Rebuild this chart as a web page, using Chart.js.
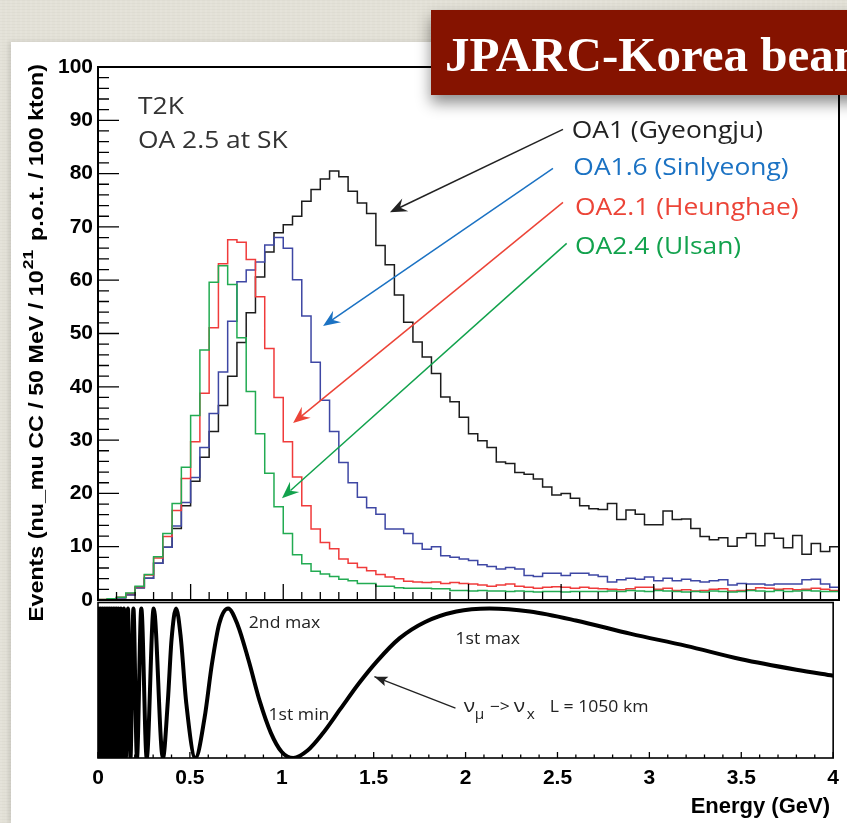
<!DOCTYPE html>
<html>
<head>
<meta charset="utf-8">
<script src="https://cdn.jsdelivr.net/npm/chart.js@4.4.1/dist/chart.umd.min.js"></script>
<style>
html, body { margin: 0; padding: 0; }
body {
  width: 847px; height: 823px; overflow: hidden; position: relative;
  background:
    repeating-linear-gradient(0deg, rgba(0,0,0,0.025) 0 1px, transparent 1px 3px),
    repeating-linear-gradient(90deg, rgba(255,255,255,0.08) 0 2px, transparent 2px 5px),
    #e3e1d7;
}
#paper { position: absolute; left: 11px; top: 42px; width: 836px; height: 781px; background: #fff;
  box-shadow: -2px 0 5px rgba(0,0,0,0.12); }
#upper { position: absolute; left: 0; top: 0; }
#lower { position: absolute; left: 0; top: 590px; }
#title { position: absolute; left: 431px; top: 10px; width: 440px; height: 85px; background: #851300;
  box-shadow: 0 8px 14px rgba(0,0,0,0.45); z-index: 5; }
#title span { position: absolute; left: 14px; top: 20px; font: bold 49px/49px "Liberation Serif", serif;
  color: #fff; white-space: nowrap; }
</style>
</head>
<body>
<div id="paper"></div>
<canvas id="upper" width="847" height="620"></canvas>
<canvas id="lower" width="847" height="233"></canvas>
<div id="title"><span>JPARC-Korea beam</span></div>
<script>
// 50 MeV bins from 0 to 4 GeV
const binWidth = 0.05;
const energyTicks = [0, 0.5, 1, 1.5, 2, 2.5, 3, 3.5, 4];
const eventTicks = [0, 10, 20, 30, 40, 50, 60, 70, 80, 90, 100];

// events per bin
const oa1 = [0, 0.1, 0.4, 1.0, 2.3, 4.1, 6.9, 9.9, 13.4, 17.7,
  22.3, 26.8, 31.6, 36.5, 42.0, 48.3, 53.9, 60.6, 65.3, 68.9,
  70.4, 72.0, 74.8, 77.0, 79.0, 80.5, 79.4, 76.7, 74.5, 72.5,
  66.5, 62.9, 57.2, 52.1, 48.4, 45.6, 42.5, 38.1, 37.2, 34.3,
  31.2, 29.9, 28.6, 25.9, 25.6, 23.9, 23.6, 22.7, 21.2, 19.7,
  20.0, 19.1, 17.7, 17.1, 17.0, 18.1, 15.1, 16.9, 16.1, 14.1,
  14.1, 16.7, 15.1, 15.2, 13.4, 11.9, 11.3, 11.7, 10.1, 11.7,
  12.5, 10.2, 12.5, 11.6, 9.8, 12.1, 8.6, 10.6, 9.1, 10.0];
const oa16 = [0, 0.1, 0.4, 1.0, 2.3, 4.1, 6.9, 9.9, 13.9, 18.3,
  23.0, 28.6, 35.0, 42.8, 52.3, 59.7, 61.9, 63.4, 66.6, 68.0,
  66.0, 60.1, 53.3, 44.6, 37.5, 31.6, 25.8, 22.0, 19.3, 17.3,
  16.1, 13.3, 13.3, 12.5, 10.6, 9.5, 10.0, 8.3, 8.0, 7.7,
  7.4, 6.6, 6.3, 5.8, 6.1, 5.8, 4.6, 4.4, 5.0, 5.0,
  4.6, 5.0, 5.0, 4.7, 4.4, 3.4, 3.8, 4.1, 3.9, 4.3,
  3.6, 4.1, 3.6, 3.9, 3.6, 3.4, 3.6, 3.8, 2.8, 3.1,
  3.0, 3.0, 2.8, 3.0, 3.0, 3.0, 3.8, 3.9, 3.0, 2.4];
const oa21 = [0.1, 0.25, 0.5, 1.2, 2.5, 4.7, 7.9, 11.9, 16.8, 22.8,
  29.7, 38.8, 51.1, 63.1, 67.6, 67.1, 63.9, 56.9, 47.2, 38.0,
  29.7, 23.1, 17.7, 13.3, 10.8, 9.6, 7.7, 6.9, 6.1, 5.5,
  4.8, 4.3, 4.0, 3.5, 3.4, 3.3, 3.4, 3.1, 3.3, 3.1,
  3.0, 2.8, 2.6, 2.8, 3.0, 2.6, 2.4, 2.2, 2.4, 2.5,
  2.4, 2.2, 2.4, 2.2, 2.1, 2.0, 1.9, 2.1, 2.4, 2.4,
  2.0, 2.2, 1.8, 1.9, 1.7, 1.8, 2.0, 2.1, 1.7, 1.8,
  1.9, 2.3, 2.2, 2.0, 2.1, 1.9, 2.0, 2.2, 2.0, 1.8];
const oa24 = [0.1, 0.25, 0.5, 1.3, 2.6, 4.8, 8.1, 12.5, 18.1, 24.9,
  34.6, 46.9, 59.6, 62.7, 59.2, 49.2, 39.1, 31.2, 23.8, 17.5,
  12.5, 8.5, 6.8, 5.4, 4.9, 4.4, 3.9, 3.6, 3.1, 3.1,
  2.6, 2.6, 2.3, 2.2, 2.2, 2.2, 2.1, 2.1, 1.8, 1.8,
  1.7, 1.8, 1.7, 1.7, 1.6, 1.7, 1.6, 1.5, 1.6, 1.6,
  1.5, 1.6, 1.6, 1.6, 1.6, 1.7, 1.6, 1.8, 1.7, 1.6,
  1.8, 1.7, 1.6, 1.5, 1.6, 1.5, 1.7, 1.6, 1.5, 1.6,
  1.8, 1.7, 1.6, 1.8, 1.6, 1.7, 1.8, 1.7, 1.6, 1.6];

// nu_mu -> nu_x probability curve
const probE = [0, 0.004, 0.009, 0.014, 0.019, 0.024, 0.029, 0.034, 0.039, 0.044,
  0.049, 0.054, 0.059, 0.064, 0.069, 0.074, 0.079, 0.0835, 0.0883, 0.0922,
  0.0964, 0.1009, 0.106, 0.1116, 0.1178, 0.1247, 0.1325, 0.1413, 0.1514, 0.1631,
  0.1767, 0.1927, 0.212, 0.2356, 0.265, 0.303, 0.353, 0.38, 0.40, 0.425,
  0.45, 0.48, 0.53, 0.58, 0.62, 0.66, 0.708, 0.76, 0.82, 0.88,
  0.94, 1.0, 1.063, 1.14, 1.22, 1.32, 1.42, 1.52, 1.64, 1.78,
  1.95, 2.13, 2.35, 2.6, 2.9, 3.2, 3.5, 3.8, 4.0];
const probP = [0, 1, 0, 1, 0, 1, 0, 1, 0, 1,
  0, 1, 0, 1, 0, 1, 0, 1, 0, 1,
  0, 1, 0, 1, 0, 1, 0, 1, 0, 1,
  0, 1, 0, 1, 0, 1, 0, 0.38, 0.79, 1,
  0.81, 0.37, 0, 0.27, 0.63, 0.9, 1, 0.89, 0.65, 0.38,
  0.17, 0.04, 0, 0.05, 0.16, 0.33, 0.5, 0.65, 0.8, 0.91,
  0.98, 1, 0.98, 0.92, 0.83, 0.75, 0.66, 0.59, 0.55];

const siteNames = ['OA1 (Gyeongju)', 'OA1.6 (Sinlyeong)', 'OA2.1 (Heunghae)', 'OA2.4 (Ulsan)'];
const siteData = [oa1, oa16, oa21, oa24];
const histColors = ['#1c1c1c', '#3e47a4', '#f03b3b', '#22ab52'];
const labelColors = ['#222222', '#1b72c3', '#ec4437', '#12a24d'];

// annotation layout, in data units (E, events)
const labelPos = [[2.557, 86.6], [2.566, 79.7], [2.575, 72.3], [2.575, 65.0]];
const arrowPos = [[2.51, 88.3, 1.576, 72.75], [2.456, 81.0, 1.215, 51.4],
  [2.51, 74.6, 1.053, 33.2], [2.53, 66.9, 0.993, 19.1]];

const sansBold = '"Liberation Sans", Arial, sans-serif';
const myriad = '"Open Sans", "Noto Sans", sans-serif';

function histPoints(vals) {
  const pts = vals.map((v, i) => ({x: i * binWidth, y: v}));
  pts.push({x: vals.length * binWidth, y: vals[vals.length - 1]});
  return pts;
}

function stretchText(ctx, txt, x, y, sx) {
  ctx.save();
  ctx.translate(x, y);
  ctx.scale(sx, 1);
  ctx.fillText(txt, 0, 0);
  ctx.restore();
}

function arrowHead(ctx, x1, y1, x2, y2, len, half, notch) {
  const a = Math.atan2(y2 - y1, x2 - x1), c = Math.cos(a), s = Math.sin(a);
  const bx = x2 - len * c, by = y2 - len * s;
  ctx.beginPath();
  ctx.moveTo(x2, y2);
  ctx.lineTo(bx + half * s, by - half * c);
  ctx.lineTo(x2 - notch * len * c, y2 - notch * len * s);
  ctx.lineTo(bx - half * s, by + half * c);
  ctx.closePath();
  ctx.fill();
}

// ROOT style frame with ticks pointing inwards
const rootFrame = {
  id: 'rootFrame',
  afterDatasetsDraw(chart, args, o) {
    const {ctx, chartArea: a, scales: {x, y}} = chart;
    ctx.save();
    ctx.strokeStyle = '#000';
    ctx.lineWidth = o.lw;
    ctx.strokeRect(a.left, a.top, a.right - a.left, a.bottom - a.top);
    ctx.lineWidth = 1.3;
    ctx.beginPath();
    for (let k = 0; k * o.xMinor <= x.max + 1e-9; k++) {
      const v = k * o.xMinor, px = x.getPixelForValue(v);
      const major = Math.abs(v / o.xMajor - Math.round(v / o.xMajor)) < 1e-6;
      ctx.moveTo(px, a.bottom);
      ctx.lineTo(px, a.bottom - (major ? o.xMajLen : o.xMinLen));
    }
    if (o.yMinor) {
      for (let k = 0; k * o.yMinor <= y.max + 1e-9; k++) {
        const v = k * o.yMinor, py = y.getPixelForValue(v);
        const major = Math.abs(v / o.yMajor - Math.round(v / o.yMajor)) < 1e-6;
        ctx.moveTo(a.left, py);
        ctx.lineTo(a.left + (major ? o.yMajLen : o.yMinLen), py);
      }
    }
    ctx.stroke();
    ctx.restore();
  }
};

// texts and arrows of the upper panel
const upperNotes = {
  id: 'upperNotes',
  afterDraw(chart) {
    const {ctx, scales: {x, y}} = chart;
    ctx.save();
    ctx.textBaseline = 'alphabetic';
    ctx.font = '24px ' + myriad;
    ctx.fillStyle = '#333';
    stretchText(ctx, 'T2K', x.getPixelForValue(0.216), y.getPixelForValue(91.25), 1.1);
    stretchText(ctx, 'OA 2.5 at SK', x.getPixelForValue(0.216), y.getPixelForValue(84.75), 1.1);
    siteNames.forEach((name, i) => {
      ctx.fillStyle = labelColors[i];
      stretchText(ctx, name, x.getPixelForValue(labelPos[i][0]), y.getPixelForValue(labelPos[i][1]), 1.1);
      const [e1, v1, e2, v2] = arrowPos[i];
      const x1 = x.getPixelForValue(e1), y1 = y.getPixelForValue(v1);
      const x2 = x.getPixelForValue(e2), y2 = y.getPixelForValue(v2);
      ctx.strokeStyle = labelColors[i];
      ctx.lineWidth = 1.5;
      ctx.beginPath();
      ctx.moveTo(x1, y1);
      ctx.lineTo(x2 + (x1 - x2) * 0.03, y2 + (y1 - y2) * 0.03);
      ctx.stroke();
      arrowHead(ctx, x1, y1, x2, y2, 17, 7, 0.65);
    });

    // rotated y axis title with superscript
    const parts = ['Events (nu_mu CC / 50 MeV / 10', '21', ' p.o.t. / 100 kton)'];
    const fMain = 'bold 20px ' + sansBold, fSup = 'bold 15px ' + sansBold;
    ctx.font = fMain;
    const w1 = ctx.measureText(parts[0]).width, w3 = ctx.measureText(parts[2]).width;
    ctx.font = fSup;
    const w2 = ctx.measureText(parts[1]).width + 3;
    const s = (622 - 64) / (w1 + w2 + w3);
    ctx.fillStyle = '#000';
    ctx.translate(43, 622);
    ctx.rotate(-Math.PI / 2);
    ctx.scale(s, 1);
    ctx.font = fMain;
    ctx.fillText(parts[0], 0, 0);
    ctx.font = fSup;
    ctx.fillText(parts[1], w1 + 1, -10);
    ctx.font = fMain;
    ctx.fillText(parts[2], w1 + w2, 0);
    ctx.restore();
  }
};

// texts and arrow of the lower panel
const lowerNotes = {
  id: 'lowerNotes',
  afterDraw(chart) {
    const {ctx, scales: {x, y}} = chart;
    ctx.save();
    ctx.textBaseline = 'alphabetic';
    ctx.fillStyle = '#222';
    ctx.font = '16px ' + myriad;
    stretchText(ctx, '2nd max', x.getPixelForValue(0.8205), y.getPixelForValue(0.868), 1.1);
    stretchText(ctx, '1st min', x.getPixelForValue(0.928), y.getPixelForValue(0.254), 1.1);
    stretchText(ctx, '1st max', x.getPixelForValue(1.945), y.getPixelForValue(0.763), 1.1);
    const bx = x.getPixelForValue(1.99), by = y.getPixelForValue(0.31);
    ctx.font = '19px ' + myriad;
    stretchText(ctx, 'ν', bx, by, 1.1);
    ctx.font = '14px ' + myriad;
    stretchText(ctx, 'μ', bx + 11, by + 7, 1.1);
    ctx.font = '16px ' + myriad;
    stretchText(ctx, '−>', bx + 26, by, 1.1);
    ctx.font = '19px ' + myriad;
    stretchText(ctx, 'ν', bx + 50, by, 1.1);
    ctx.font = '14px ' + myriad;
    stretchText(ctx, 'x', bx + 63, by + 7, 1.1);
    ctx.font = '16px ' + myriad;
    stretchText(ctx, 'L = 1050 km', bx + 86, by, 1.1);

    const x1 = x.getPixelForValue(1.945), y1 = y.getPixelForValue(0.334);
    const x2 = x.getPixelForValue(1.504), y2 = y.getPixelForValue(0.544);
    ctx.strokeStyle = '#222';
    ctx.fillStyle = '#222';
    ctx.lineWidth = 1.3;
    ctx.beginPath();
    ctx.moveTo(x1, y1);
    ctx.lineTo(x2, y2);
    ctx.stroke();
    arrowHead(ctx, x1, y1, x2, y2, 13, 5, 0.8);

    // x axis title sits low and right, as in the original
    ctx.fillStyle = '#000';
    ctx.font = 'bold 22px ' + sansBold;
    ctx.textAlign = 'right';
    ctx.fillText('Energy (GeV)', 830, 223);
    ctx.restore();
  }
};

const histSets = siteData.map((vals, i) => ({
  label: siteNames[i],
  data: histPoints(vals),
  borderColor: histColors[i],
  borderWidth: 1.5,
  stepped: true,
  pointRadius: 0,
  fill: false
})).reverse();

new Chart(document.getElementById('upper'), {
  type: 'line',
  data: {datasets: histSets},
  options: {
    responsive: false, animation: false, events: [],
    layout: {padding: {left: 0, top: 67, right: 8, bottom: 20}},
    plugins: {
      legend: {display: false}, tooltip: {enabled: false},
      rootFrame: {lw: 2, xMajor: 0.5, xMinor: 0.1, xMajLen: 16, xMinLen: 8,
        yMajor: 10, yMinor: 2, yMajLen: 21, yMinLen: 11}
    },
    scales: {
      x: {type: 'linear', min: 0, max: 4, display: false},
      y: {
        min: 0, max: 100,
        afterFit(s) { s.width = 98; },
        afterBuildTicks(s) { s.ticks = eventTicks.map(v => ({value: v})); },
        grid: {display: false, drawTicks: false},
        border: {display: false},
        ticks: {padding: 5, color: '#000', font: {family: sansBold, size: 21, weight: 'bold'}}
      }
    }
  },
  plugins: [rootFrame, upperNotes]
});

new Chart(document.getElementById('lower'), {
  type: 'line',
  data: {datasets: [{
    label: 'P(nu_mu -> nu_x)',
    data: probE.map((e, i) => ({x: e, y: probP[i]})),
    borderColor: '#000',
    borderWidth: 4,
    pointRadius: 0,
    cubicInterpolationMode: 'monotone',
    fill: false
  }]},
  options: {
    responsive: false, animation: false, events: [],
    layout: {padding: {left: 98, top: 12.5, right: 8, bottom: 0}},
    plugins: {
      legend: {display: false}, tooltip: {enabled: false},
      rootFrame: {lw: 1.6, xMajor: 0.5, xMinor: 0.1, xMajLen: 6, xMinLen: 3.5}
    },
    scales: {
      x: {
        type: 'linear', min: 0, max: 4,
        afterFit(s) { s.height = 65; },
        afterBuildTicks(s) { s.ticks = energyTicks.map(v => ({value: v})); },
        grid: {display: false, drawTicks: false},
        border: {display: false},
        ticks: {autoSkip: false, maxRotation: 0, padding: 8, color: '#000',
          font: {family: sansBold, size: 21, weight: 'bold'},
          callback: v => String(v)}
      },
      y: {min: 0, max: 1.04, display: false}
    }
  },
  plugins: [rootFrame, lowerNotes]
});
</script>
</body>
</html>
